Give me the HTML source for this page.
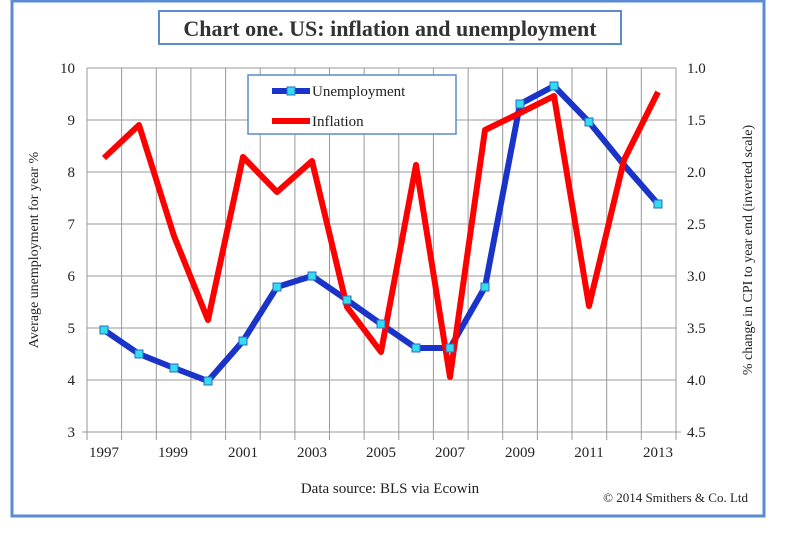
<!DOCTYPE html>
<html><head><style>
body{margin:0;background:#fff;}
svg text{font-family:"Liberation Serif",serif;}
</style></head><body>
<svg width="785" height="532" xmlns="http://www.w3.org/2000/svg">
<rect x="12" y="1" width="752" height="515" fill="#fff" stroke="#5b8bd0" stroke-width="3"/>
<rect x="159" y="11" width="462" height="33" fill="#fff" stroke="#5b8bd0" stroke-width="2"/>
<text x="390" y="36" font-size="22" font-weight="bold" fill="#333" text-anchor="middle">Chart one. US: inflation and unemployment</text>
<g stroke="#999" stroke-width="1">
<line x1="87" y1="68" x2="676" y2="68"/>
<line x1="87" y1="120" x2="676" y2="120"/>
<line x1="87" y1="172" x2="676" y2="172"/>
<line x1="87" y1="224" x2="676" y2="224"/>
<line x1="87" y1="276" x2="676" y2="276"/>
<line x1="87" y1="328" x2="676" y2="328"/>
<line x1="87" y1="380" x2="676" y2="380"/>
<line x1="82" y1="432" x2="681" y2="432"/>
<line x1="87" y1="68" x2="87" y2="440"/><line x1="121.6" y1="68" x2="121.6" y2="440"/><line x1="156.3" y1="68" x2="156.3" y2="440"/><line x1="190.9" y1="68" x2="190.9" y2="440"/><line x1="225.6" y1="68" x2="225.6" y2="440"/><line x1="260.2" y1="68" x2="260.2" y2="440"/><line x1="294.9" y1="68" x2="294.9" y2="440"/><line x1="329.5" y1="68" x2="329.5" y2="440"/><line x1="364.1" y1="68" x2="364.1" y2="440"/><line x1="398.8" y1="68" x2="398.8" y2="440"/><line x1="433.4" y1="68" x2="433.4" y2="440"/><line x1="468.1" y1="68" x2="468.1" y2="440"/><line x1="502.7" y1="68" x2="502.7" y2="440"/><line x1="537.4" y1="68" x2="537.4" y2="440"/><line x1="572" y1="68" x2="572" y2="440"/><line x1="606.7" y1="68" x2="606.7" y2="440"/><line x1="641.3" y1="68" x2="641.3" y2="440"/><line x1="676" y1="68" x2="676" y2="440"/>
</g>
<g font-size="15" fill="#222" text-anchor="end">
<text x="75" y="73">10</text><text x="75" y="125">9</text><text x="75" y="177">8</text><text x="75" y="229">7</text><text x="75" y="281">6</text><text x="75" y="333">5</text><text x="75" y="385">4</text><text x="75" y="437">3</text>
</g>
<g font-size="15" fill="#222">
<text x="687" y="73">1.0</text><text x="687" y="125">1.5</text><text x="687" y="177">2.0</text><text x="687" y="229">2.5</text><text x="687" y="281">3.0</text><text x="687" y="333">3.5</text><text x="687" y="385">4.0</text><text x="687" y="437">4.5</text>
</g>
<g font-size="15" fill="#222" text-anchor="middle">
<text x="104" y="457">1997</text><text x="173" y="457">1999</text><text x="243" y="457">2001</text><text x="312" y="457">2003</text><text x="381" y="457">2005</text><text x="450" y="457">2007</text><text x="520" y="457">2009</text><text x="589" y="457">2011</text><text x="658" y="457">2013</text>
</g>
<text transform="translate(38,250) rotate(-90)" font-size="14" fill="#222" text-anchor="middle">Average unemployment for year %</text>
<text transform="translate(752,250) rotate(-90)" font-size="14" fill="#222" text-anchor="middle">% change in CPI to year end (inverted scale)</text>
<text x="390" y="493" font-size="15" fill="#222" text-anchor="middle">Data source: BLS via Ecowin</text>
<text x="748" y="502" font-size="13" fill="#222" text-anchor="end">© 2014 Smithers &amp; Co. Ltd</text>
<polyline fill="none" stroke="#1a33c8" stroke-width="6" stroke-linejoin="round" points="104,330 139,354 174,368 208,381 243,341 277,287 312,276 347,300 381,324 416,348 450,348 485,287 520,104 554,86 589,122 624,165 658,204"/>
<polyline fill="none" stroke="#ff0000" stroke-width="6" stroke-linejoin="round" points="104,158 139,125 174,236 208,320 243,157 277,192 312,161 347,307 381,352 416,165 450,377 485,130 520,113 554,96 589,306 624,160 658,92"/>
<g fill="#33ddee" stroke="#2a6acc" stroke-width="1">
<rect x="100" y="326" width="8" height="8"/><rect x="135" y="350" width="8" height="8"/><rect x="170" y="364" width="8" height="8"/><rect x="204" y="377" width="8" height="8"/><rect x="239" y="337" width="8" height="8"/><rect x="273" y="283" width="8" height="8"/><rect x="308" y="272" width="8" height="8"/><rect x="343" y="296" width="8" height="8"/><rect x="377" y="320" width="8" height="8"/><rect x="412" y="344" width="8" height="8"/><rect x="446" y="344" width="8" height="8"/><rect x="481" y="283" width="8" height="8"/><rect x="516" y="100" width="8" height="8"/><rect x="550" y="82" width="8" height="8"/><rect x="585" y="118" width="8" height="8"/><rect x="654" y="200" width="8" height="8"/>
</g>
<rect x="248" y="75" width="208" height="59" fill="#fff" stroke="#5b8bd0" stroke-width="1.5"/>
<line x1="272" y1="91" x2="310" y2="91" stroke="#1a33c8" stroke-width="6"/>
<rect x="287" y="87" width="8" height="8" fill="#33ddee" stroke="#2a6acc"/>
<text x="312" y="96" font-size="15" fill="#222">Unemployment</text>
<line x1="272" y1="121" x2="310" y2="121" stroke="#ff0000" stroke-width="6"/>
<text x="312" y="126" font-size="15" fill="#222">Inflation</text>
</svg>
</body></html>
